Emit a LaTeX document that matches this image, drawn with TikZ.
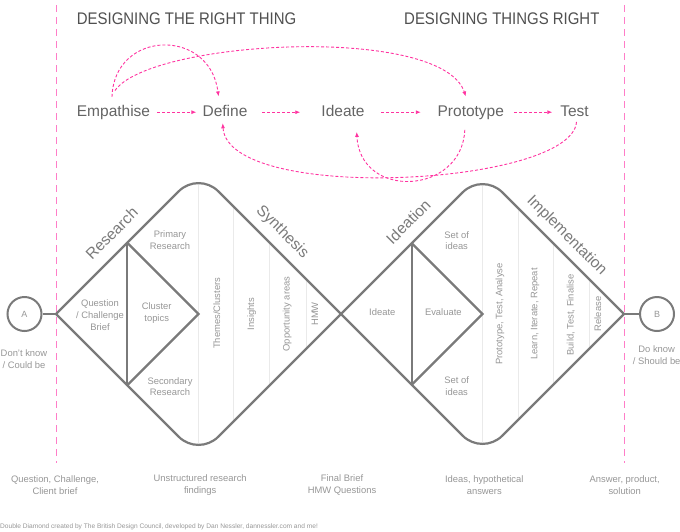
\documentclass[tikz,border=0pt]{standalone}
\usepackage{fontspec}
\setmainfont{Liberation Sans}
\newfontfamily\hdrfont{Liberation Sans}[FakeStretch=0.89]
\usetikzlibrary{arrows.meta,calc}
\definecolor{pinkA}{RGB}{255,51,160}
\definecolor{pinkB}{RGB}{255,125,200}
\definecolor{dgray}{RGB}{122,122,122}
\definecolor{lgray}{RGB}{234,234,234}
\definecolor{tgray}{RGB}{150,150,150}
\definecolor{fgray}{RGB}{100,100,100}
\definecolor{hgray}{RGB}{80,80,80}
\newcommand\drawDD[2]{%
  \draw[dia] ({#1-#2},314) -- ({#1-19.8},{314-#2+19.8})
    .. controls ({#1-8.87},{314-#2+8.87}) and ({#1+8.87},{314-#2+8.87}) .. ({#1+19.8},{314-#2+19.8})
    -- ({#1+#2},314) -- ({#1+19.8},{314+#2-19.8})
    .. controls ({#1+8.87},{314+#2-8.87}) and ({#1-8.87},{314+#2-8.87}) .. ({#1-19.8},{314+#2-19.8})
    -- cycle;}
\begin{document}
\begin{tikzpicture}[x=1pt,y=-1pt,
  every node/.style={inner sep=0pt},
  hdr/.style={font=\hdrfont\fontsize{16.8}{18}\selectfont, text=hgray, anchor=base west},
  flowword/.style={font=\fontsize{15.5}{18}\selectfont, text=fgray, anchor=base, text height=11pt, text depth=2pt},
  flowarrow/.style={pinkA, line width=0.9pt, dash pattern=on 3pt off 2pt, -{Latex[length=5pt,width=4pt]}},
  vline/.style={pinkB, line width=1.4pt, dash pattern=on 7pt off 5pt},
  dia/.style={dgray, line width=2.2pt},
  sep/.style={lgray, line width=0.9pt},
  phase/.style={font=\fontsize{15.5}{18}\selectfont, text=dgray},
  lbl/.style={font=\fontsize{9.4}{11.7}\selectfont, text=tgray, align=center},
  circ/.style={circle, draw=dgray, line width=2pt, minimum size=34pt, font=\fontsize{9}{11}\selectfont, text=tgray},
  foot/.style={font=\fontsize{6.6}{8}\selectfont, text=tgray, anchor=west}
]
\useasboundingbox (0,0) rectangle (680,531);

% headers
\node[hdr] (h1) at (76.7,24) {DESIGNING THE RIGHT THING};
\node[hdr] (h2) at (404,24) {DESIGNING THINGS RIGHT};

% pink dashed verticals
\coordinate (v1t) at (56.5,5); \coordinate (v1b) at (56.5,463);
\coordinate (v2t) at (624.5,5); \coordinate (v2b) at (624.5,463);
\draw[vline] (v1t) -- (v1b);
\draw[vline] (v2t) -- (v2b);

% flow words
\node[flowword] (emp) at (113.5,116.7) {Empathise};
\node[flowword] (def) at (225,116.7) {Define};
\node[flowword] (ide) at (343,116.7) {Ideate};
\node[flowword] (pro) at (470.8,116.7) {Prototype};
\node[flowword] (tst) at (574.5,116.7) {Test};

\draw[flowarrow, shorten <=6.7pt, shorten >=6pt] (emp.east) -- (def.west);
\draw[flowarrow, shorten <=14.7pt, shorten >=21pt] (def.east) -- (ide.west);
\draw[flowarrow, shorten <=16.7pt, shorten >=16.6pt] (ide.east) -- (pro.west);
\draw[flowarrow, shorten <=9.7pt, shorten >=7.7pt] (pro.east) -- (tst.west);

% curved arrows
\draw[flowarrow] ($(emp.north)+(-1.5,-8.7)$) .. controls (114,30) and (210,27) .. ($(def.north)+(-6.5,-9)$);
\draw[flowarrow] ($(emp.north)+(1.5,-15)$) .. controls (150,40) and (442,24) .. ($(pro.north)+(-5,-9)$);
\draw[flowarrow] ($(pro.south)+(-6,11)$) .. controls (462,195) and (360,200) .. ($(ide.south)+(13.7,13)$);
\draw[flowarrow] ($(tst.south)+(2,3)$) .. controls (572,186) and (228,204) .. ($(def.south)+(-2.3,4.3)$);

% light separators
\draw[sep] (198.5,183) -- (198.5,445);
\draw[sep] (233,208) -- (233,420);
\draw[sep] (269,244) -- (269,384);
\draw[sep] (306,280) -- (306,348);
\draw[sep] (482.5,184) -- (482.5,444);
\draw[sep] (518,210) -- (518,418);
\draw[sep] (553,245) -- (553,383);
\draw[sep] (589,280) -- (589,348);

% diamonds
\drawDD{198.5}{142.5}
\drawDD{482.5}{141.5}
\draw[dia] (127.25,242.75) -- (127.25,385.25);
\draw[dia] (127.25,242.75) -- (198.5,314) -- (127.25,385.25);
\draw[dia] (411.75,243.25) -- (411.75,384.75);
\draw[dia] (411.75,243.25) -- (482.5,314) -- (411.75,384.75);

% circles and connectors
\node[circ] (A) at (24.5,314) {A};
\node[circ] (B) at (657,314) {B};
\coordinate (LL) at (56,314);
\coordinate (RR) at (624,314);
\draw[dia] (A) -- (LL);
\draw[dia] (RR) -- (B);

% phase labels
\node[phase, rotate=45] (ph1) at (111.7,233.3) {Research};
\node[phase, rotate=-45] (ph2) at (282.3,232) {Synthesis};
\node[phase, rotate=45] (ph3) at (408.3,221.7) {Ideation};
\node[phase, rotate=-45] (ph4) at (566.7,235.7) {Implementation};

% inner labels left
\node[lbl] (l1) at (170,240) {Primary\\Research};
\node[lbl] (l2) at (100,315) {Question\\/ Challenge\\Brief};
\node[lbl] (l3) at (156.7,313.3) {Cluster\\topics};
\node[lbl] (l4) at (170,386.7) {Secondary\\Research};
\node[lbl, rotate=90] (l5) at (216.7,313.3) {Themes/Clusters};
\node[lbl, rotate=90] (l6) at (251.7,314) {Insights};
\node[lbl, rotate=90] (l7) at (287.3,314) {Opportunity areas};
\node[lbl, rotate=90] (l8) at (315,314) {HMW};
% inner labels right
\node[lbl] (r1) at (456.7,240.7) {Set of\\ideas};
\node[lbl] (r2) at (382.3,311.7) {Ideate};
\node[lbl] (r3) at (443.3,311.7) {Evaluate};
\node[lbl] (r4) at (456.7,386) {Set of\\ideas};
\node[lbl, rotate=90] (r5) at (500,314) {Prototype, Test, Analyse};
\node[lbl, rotate=90] (r6) at (535,314) {Learn, Iterate, Repeat};
\node[lbl, rotate=90] (r7) at (570.7,315) {Build, Test, Finalise};
\node[lbl, rotate=90] (r8) at (597.7,314) {Release};

% side labels
\node[lbl] (s1) at (24,359) {Don’t know\\/ Could be};
\node[lbl] (s2) at (656.7,355) {Do know\\/ Should be};

% bottom labels
\node[lbl] (b1) at (55,485) {Question, Challenge,\\Client brief};
\node[lbl] (b2) at (200.2,485) {Unstructured research\\findings};
\node[lbl] (b3) at (342,485) {Final Brief\\HMW Questions};
\node[lbl] (b4) at (484.3,485) {Ideas, hypothetical\\answers};
\node[lbl] (b5) at (624.7,485) {Answer, product,\\solution};

% footer
\node[foot] (ft) at (0,526.7) {Double Diamond created by The British Design Council, developed by Dan Nessler, dannessler.com and me!};
\end{tikzpicture}
\end{document}
